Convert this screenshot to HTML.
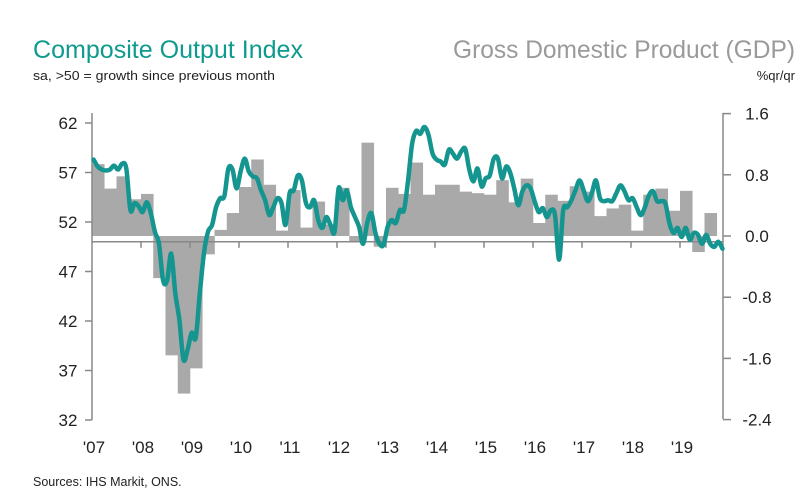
<!DOCTYPE html>
<html><head><meta charset="utf-8"><style>
html,body{margin:0;padding:0;background:#fff;}
svg{display:block;font-family:"Liberation Sans",sans-serif;}
</style></head><body>
<svg id="chart" width="803" height="500" viewBox="0 0 803 500">
<text x="33" y="58" font-size="25" fill="#0f9a8e" textLength="270" lengthAdjust="spacingAndGlyphs">Composite Output Index</text>
<text x="795" y="58" font-size="25" fill="#9a9a9a" text-anchor="end" textLength="342" lengthAdjust="spacingAndGlyphs">Gross Domestic Product (GDP)</text>
<text x="33" y="80" font-size="13" fill="#222" textLength="242" lengthAdjust="spacingAndGlyphs">sa, &gt;50 = growth since previous month</text>
<text x="795" y="80" font-size="13" fill="#222" text-anchor="end">%qr/qr</text>
<text x="33" y="486" font-size="12.5" fill="#222">Sources: IHS Markit, ONS.</text>
<g id="bars"></g><g id="axes"></g><g id="line"></g>
</svg>
<script>
const years = ["'07","'08","'09","'10","'11","'12","'13","'14","'15","'16","'17","'18","'19"];
const leftTicks = [62,57,52,47,42,37,32];
const rightTicks = [1.6,0.8,0.0,-0.8,-1.6,-2.4];
const gdp = [0.94,0.62,0.78,0.48, 0.55,-0.55,-1.56,-2.06, -1.73,-0.24,0.08,0.30, 0.64,1.00,0.67,0.07, 0.60,0.11,0.45,0.15, 0.63,-0.08,1.22,-0.14, 0.63,0.55,0.96,0.54, 0.67,0.67,0.58,0.56, 0.54,0.73,0.44,0.75, 0.17,0.54,0.46,0.65, 0.58,0.26,0.36,0.41, 0.07,0.54,0.62,0.33, 0.59,-0.21,0.30];
const pmi = [58.3,57.6,57.3,57.2,57.3,57.7,57.3,57.9,57.4,53.2,53.9,53.6,
53.0,54.0,52.9,51.0,49.8,46.1,46.1,48.8,44.8,42.1,38.1,39.1,
40.8,40.3,44.8,48.8,51.0,51.7,53.5,54.4,54.6,57.4,57.3,55.4,
57.1,58.4,57.1,56.6,56.4,55.2,54.2,52.7,53.5,54.4,53.9,51.7,
54.9,55.2,56.7,56.2,53.9,53.5,54.2,52.2,51.4,52.5,51.7,51.0,
55.4,54.2,55.2,53.5,52.5,51.5,49.8,51.9,52.9,50.9,49.8,49.7,
51.5,52.2,51.9,53.2,53.2,56.2,59.9,61.2,60.9,61.6,60.8,58.9,
58.3,58.1,57.8,59.3,58.9,58.4,59.1,59.4,57.3,56.1,57.4,55.6,
56.4,56.7,58.4,58.4,56.4,57.6,57.0,55.4,53.7,55.1,55.7,55.4,
54.1,53.0,53.4,52.5,53.2,52.7,48.2,53.2,53.5,54.2,55.2,56.2,
55.2,54.1,54.9,56.2,54.4,54.1,54.2,54.1,54.9,55.7,55.1,54.2,
54.4,53.5,52.7,53.5,54.7,55.1,54.1,54.1,53.9,51.9,50.9,51.4,
50.5,51.4,50.2,50.9,50.7,49.8,50.7,49.8,49.5,50.0,49.3];

const NS="http://www.w3.org/2000/svg";
const X0=92, X1=723, yearW=49;
const xM = m => X0 + m*yearW/12;
const yL = v => 123 + (62-v)*9.9;
const yR = v => 236 - v*76.5;
function mk(tag, attrs, parent){const e=document.createElementNS(NS,tag);for(const k in attrs)e.setAttribute(k,attrs[k]);parent.appendChild(e);return e;}
const gb=document.getElementById('bars'), ga=document.getElementById('axes'), gl=document.getElementById('line');

gdp.forEach((v,i)=>{
  const x0=xM(i*3), x1=xM(i*3+3);
  const y0=Math.min(yR(v),yR(0)), h=Math.abs(yR(v)-yR(0));
  const r=mk('rect',{x:x0,y:y0,width:x1-x0+0.3,height:h,fill:'#a9a9a9'},gb);
  
  
});

const ax=mk('line',{x1:X0,y1:113,x2:X0,y2:420,stroke:'#888','stroke-width':1.5},ga);


const ax2=mk('line',{x1:X1,y1:113,x2:X1,y2:419,stroke:'#888','stroke-width':1.5},ga);


const ax3=mk('line',{x1:X0,y1:yL(50),x2:X1,y2:yL(50),stroke:'#888','stroke-width':1.5},ga);



leftTicks.forEach(v=>{
  mk('line',{x1:X0-7,y1:yL(v),x2:X0,y2:yL(v),stroke:'#888','stroke-width':1.5},ga);
  const t=mk('text',{x:X0-24,y:yL(v)+6,'font-size':17,fill:'#222','text-anchor':'middle'},ga);
  t.textContent=v;
  
  
});
rightTicks.forEach(v=>{
  mk('line',{x1:X1,y1:yR(v),x2:X1+8,y2:yR(v),stroke:'#888','stroke-width':1.5},ga);
  const t=mk('text',{x:X1+34,y:yR(v)+6,'font-size':17,fill:'#222','text-anchor':'middle'},ga);
  t.textContent=v.toFixed(1);
  
  
});
years.forEach((lab,i)=>{
  const x=xM(i*12);
  if(i>0) mk('line',{x1:x,y1:yL(50),x2:x,y2:yL(50)+6,stroke:'#888','stroke-width':1.5},ga);
  const t=mk('text',{x:x+2,y:453,'font-size':17,fill:'#222','text-anchor':'middle'},ga);
  t.textContent=lab;
  
  
});

const pts=pmi.map((v,i)=>[xM(i+0.4),yL(v)]);
let d='M'+pts[0][0].toFixed(1)+','+pts[0][1].toFixed(1);
for(let i=0;i<pts.length-1;i++){
  const p0=pts[Math.max(0,i-1)],p1=pts[i],p2=pts[i+1],p3=pts[Math.min(pts.length-1,i+2)];
  const c1=[p1[0]+(p2[0]-p0[0])/6,p1[1]+(p2[1]-p0[1])/6];
  const c2=[p2[0]-(p3[0]-p1[0])/6,p2[1]-(p3[1]-p1[1])/6];
  d+='C'+c1[0].toFixed(1)+','+c1[1].toFixed(1)+' '+c2[0].toFixed(1)+','+c2[1].toFixed(1)+' '+p2[0].toFixed(1)+','+p2[1].toFixed(1);
}
const p=mk('path',{d:d,fill:'none',stroke:'#15958f','stroke-width':4.5,'stroke-linejoin':'round','stroke-linecap':'round'},gl);


</script>
</body></html>
